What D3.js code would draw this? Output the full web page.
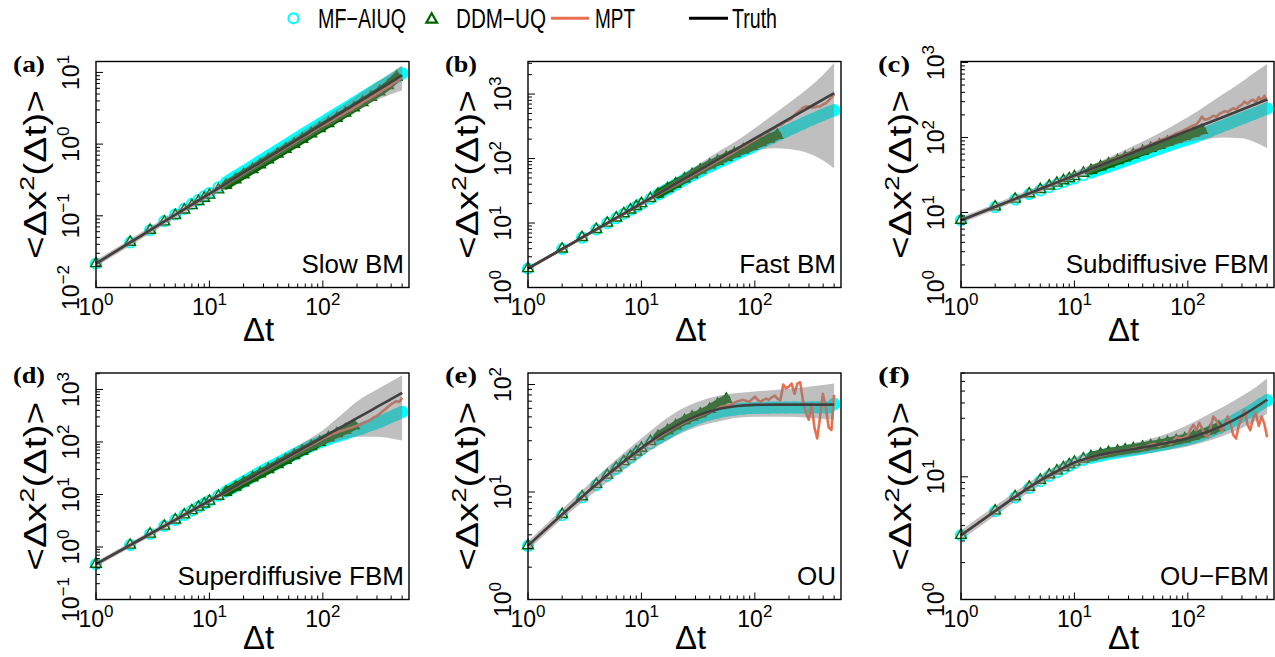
<!DOCTYPE html>
<html>
<head>
<meta charset="utf-8">
<script src="https://cdn.jsdelivr.net/npm/d3@7"></script>
<style>
  body { margin: 0; background: #ffffff; }
  svg { display: block; }
</style>
</head>
<body>
<svg id="chart" width="1275" height="657"></svg>
<script>
// ---------------------------------------------------------------------------
// Mean squared displacement <Δx²(Δt)> for six simulated processes,
// comparing MF-AIUQ, DDM-UQ and MPT estimates with the true MSD.
// ---------------------------------------------------------------------------

// Lag times at which each series is sampled
const truthDt  = [1, 2, 3, 5, 7, 10, 15, 20, 30, 50, 70, 100, 150, 200, 300, 500];
const markerDt = [1, 2, 3, 4, 5, 6, 7, 8, 9, 10, 12, 14, 17, 20, 24, 28, 33, 40, 47, 56, 66, 79, 94,
                  112, 133, 158, 188, 224, 266, 316, 376, 447, 500];
const mptDt    = [1, 2, 3, 4, 5, 7, 10, 14, 20, 28, 35, 40, 45, 50, 56, 63, 71, 79, 89, 100, 106, 112,
                  119, 126, 133, 141, 150, 158, 168, 178, 188, 200, 211, 224, 237, 251, 266, 282, 299,
                  316, 335, 355, 376, 398, 422, 447, 473, 500];
const bandDt   = [1, 2, 5, 10, 20, 30, 50, 70, 100, 150, 200, 300, 400, 500];

// (a) Slow BM
const truthA = [0.0216, 0.0425, 0.0630, 0.1035, 0.1435, 0.203, 0.301, 0.399, 0.592, 0.973, 1.35, 1.91, 2.83, 3.75, 5.56, 9.14];
const mfA = [0.0216, 0.0425, 0.063, 0.0842, 0.1045, 0.1248, 0.1464, 0.167, 0.1869, 0.2073, 0.25, 0.2903, 0.354,
             0.415, 0.4955, 0.5811, 0.6826, 0.8226, 0.962, 1.151, 1.353, 1.612, 1.907, 2.261, 2.674, 3.164,
             3.744, 4.439, 5.252, 6.213, 7.264, 8.594, 9.69];
const ddmA = [0.0216, 0.0429, 0.063, 0.0826, 0.1014, 0.1211, 0.1392, 0.1588, 0.1759, 0.1951, 0.2306, 0.2677,
              0.32, 0.3751, 0.4431, 0.5147, 0.6046, 0.7286, 0.8521, 0.9991, 1.174, 1.399, 1.655, 1.941, 2.296,
              2.716, 3.214, 3.811, 4.509, 5.392, 6.572, 8.594];
const mptA = [0.0216, 0.0423, 0.0628, 0.0830, 0.1030, 0.1420, 0.201, 0.278, 0.392, 0.542, 0.672, 0.762, 0.855,
              0.942, 1.05, 1.18, 1.31, 1.46, 1.64, 1.82, 1.90, 2.01, 2.12, 2.22, 2.36, 2.47, 2.60, 2.76, 2.90,
              3.02, 3.22, 3.40, 3.55, 3.82, 4.00, 4.18, 4.50, 4.70, 5.05, 5.25, 5.65, 5.90, 6.30, 6.60, 7.10,
              7.40, 8.00, 8.50];
const bandLoA = [0.0195, 0.0383, 0.0923, 0.179, 0.348, 0.509, 0.828, 1.135, 1.589, 2.301, 2.979, 4.121, 4.977, 5.636];
const bandHiA = [0.024, 0.0471, 0.1161, 0.2307, 0.4581, 0.6871, 1.143, 1.603, 2.296, 3.483, 4.721, 7.328, 9.931, 12.62];

// (b) Fast BM
const truthB = [1.97, 3.96, 5.97, 10.0, 14.0, 20.1, 30.2, 40.4, 60.8, 102, 143, 205, 308, 411, 619, 1038];
const mfB = [1.97, 3.96, 5.95, 7.95, 9.95, 11.9, 13.9, 15.9, 17.9, 19.9, 23.8, 27.8, 33.7, 39.5, 47.4, 54.8, 63.9,
             75.9, 86.1, 99.2, 114, 131, 150, 174, 200, 230, 264, 304, 350, 402, 458, 519, 560];
const ddmB = [1.97, 3.96, 5.97, 7.98, 10.0, 12.0, 14.0, 16.0, 18.1, 20.1, 24.1, 28.2, 34.3, 40.4, 48.5, 56.7, 67.0,
              80.0, 91.2, 105, 120, 137, 155, 178, 202, 230];
const mptB = [1.97, 3.9, 5.9, 7.9, 9.9, 13.8, 19.6, 27.5, 39.2, 55, 68, 78, 88, 97, 108, 121, 139, 152, 174, 193,
              206, 222, 232, 250, 258, 280, 296, 322, 330, 352, 380, 392, 420, 470, 520, 560, 620, 640, 640, 620,
              620, 640, 640, 690, 720, 790, 880, 1000];
const bandLoB = [1.86, 3.76, 9.33, 18.6, 35.5, 50.1, 79.4, 105, 132, 145, 141, 120, 93.3, 70.8];
const bandHiB = [2.09, 4.17, 10.7, 21.9, 46.8, 75.9, 135, 191, 295, 501, 724, 1259, 1995, 3020];

// (c) Subdiffusive FBM
const truthC = [7.89, 11.9, 15.2, 20.6, 25.2, 31.1, 39.6, 47.0, 59.8, 81.2, 99.4, 123, 156, 185, 236, 321];
const mfC = [7.89, 11.8, 14.9, 17.6, 19.7, 21.8, 23.8, 25.6, 27.3, 28.4, 31.4, 34.1, 37.8, 41.0, 45.2, 49.1, 53.5,
             59.3, 64.7, 71.1, 77.6, 85.1, 92.3, 100, 110, 122, 136, 151, 167, 185, 205, 227, 243];
const ddmC = [7.89, 11.9, 15.1, 17.8, 20.3, 22.6, 24.7, 26.6, 28.4, 30.2, 33.5, 36.5, 40.8, 44.6, 49.4, 53.8, 59.0,
              65.6, 71.8, 79.0, 86.5, 95.0, 104, 114, 125];
const mptC = [7.89, 11.8, 15.0, 17.9, 20.4, 25.0, 30.8, 37.8, 47.5, 58.5, 67.0, 72.5, 78.0, 84.0, 91.0, 97.0, 104,
              113, 121, 133, 140, 144, 150, 165, 190, 172, 176, 182, 195, 188, 205, 215, 224, 218, 232, 245, 238,
              260, 272, 300, 282, 305, 320, 295, 345, 310, 360, 300];
const bandLoC = [7.19, 10.9, 18.6, 27.7, 40.9, 50.9, 64.6, 75.9, 87.1, 95.5, 100, 97.7, 85.1, 72.4];
const bandHiC = [8.65, 13.1, 22.9, 34.9, 54.0, 71.9, 105, 137, 186, 278, 370, 553, 755, 955];

// (d) Superdiffusive FBM
const truthD = [0.470, 1.09, 1.77, 3.29, 4.94, 7.60, 12.4, 17.6, 28.7, 53.2, 80.0, 123, 201, 284, 464, 861];
const mfD = [0.47, 1.09, 1.77, 2.51, 3.29, 4.10, 4.94, 5.81, 6.69, 7.60, 9.48, 11.4, 14.4, 17.6, 21.9, 26.4, 32.2,
             39.7, 47.6, 58.2, 69.7, 84.5, 99.3, 114, 129, 144, 163, 183, 211, 242, 285, 335, 374];
const ddmD = [0.47, 1.09, 1.77, 2.51, 3.29, 4.10, 4.94, 5.78, 6.63, 7.50, 9.31, 11.1, 13.9, 16.8, 20.8, 24.9, 30.0,
              37.5, 45.2, 55.6, 67.0, 82.4, 99.6, 121, 145, 170, 205];
const mptD = [0.47, 1.08, 1.75, 2.48, 3.25, 4.88, 7.45, 11.2, 17.2, 25.8, 33.5, 39.5, 45.0, 51.5, 58.5, 67.5, 77.0,
              88.0, 101, 116, 123, 130, 138, 146, 152, 160, 166, 172, 180, 186, 195, 205, 212, 225, 240, 248, 270,
              295, 310, 340, 380, 420, 470, 520, 560, 600, 580, 700];
const bandLoD = [0.419, 0.968, 2.93, 6.78, 15.3, 24.4, 43.3, 61.7, 87.1, 112, 126, 126, 117, 107];
const bandHiD = [0.527, 1.22, 3.69, 8.53, 20.2, 33.7, 65.5, 103, 168, 347, 589, 1000, 1413, 1862];

// (e) OU
const truthE = [3.17, 6.19, 9.05, 14.4, 19.2, 25.6, 34.5, 41.1, 50.5, 59.7, 63.1, 64.6, 65.0, 65.0, 65.0, 65.0];
const mfE = [3.15, 6.1, 8.9, 11.6, 14.1, 16.4, 18.7, 20.8, 22.9, 24.8, 28.3, 31.5, 35.5, 39.3, 43.2, 46.4, 49.5,
             52.8, 55.1, 57.1, 58.6, 59.7, 60.4, 60.8, 61.0, 61.1, 61.2, 61.2, 61.2, 61.3, 61.3, 61.3, 66];
const ddmE = [3.17, 6.19, 9.05, 11.8, 14.4, 16.8, 19.2, 21.4, 23.6, 25.6, 29.6, 33.0, 37.4, 41.5, 46.3, 50.0, 53.4,
              59.0, 65.9, 73.2];
const mptE = [3.17, 6.15, 9.0, 11.7, 14.3, 19.0, 25.2, 32.3, 40.5, 48.5, 53, 56, 58, 62, 63, 66, 70, 72, 69, 77,
              72, 69, 72, 74, 72, 76, 79, 74, 71, 100, 92, 96, 102, 82, 102, 105, 70, 55, 47, 66, 40, 31.5, 50,
              82, 62, 40, 37.6, 80];
const bandLoE = [2.88, 5.62, 12.3, 21.4, 33.1, 39.8, 45.7, 49.0, 50.1, 50.1, 50.1, 49.0, 47.9, 47.3];
const bandHiE = [3.47, 6.92, 17.0, 31.6, 55.0, 67.6, 79.4, 83.2, 86.1, 89.1, 91.2, 95.5, 98.9, 102.3];

// (f) OU-FBM
const truthF = [3.34, 5.27, 6.86, 9.35, 11.1, 13.1, 14.7, 15.6, 16.6, 18.0, 19.1, 20.6, 23.3, 26.0, 31.5, 42.5];
const mfF = [3.34, 5.24, 6.8, 8.1, 9.22, 10.15, 10.9, 11.6, 12.3, 12.9, 13.7, 14.3, 14.9, 15.4, 15.8, 16.2, 16.55,
             17.05, 17.55, 18.05, 18.6, 19.3, 20.0, 20.9, 22.0, 23.4, 25.0, 27.0, 29.4, 32.2, 35.5, 39.5, 42.0];
const ddmF = [3.34, 5.29, 6.9, 8.25, 9.4, 10.4, 11.2, 11.9, 12.6, 13.2, 14.0, 14.6, 15.3, 15.8, 16.2, 16.6, 17.0,
              17.5, 18.0, 18.5, 19.1, 19.8, 20.5, 21.4, 22.5, 23.9, 25.5];
const mptF = [3.34, 5.25, 6.85, 8.2, 9.3, 11.0, 13.0, 14.4, 15.4, 16.5, 17.2, 17.0, 18.0, 18.6, 17.8, 19.2, 18.5,
              21.0, 20.5, 21.8, 24.5, 26.5, 24.0, 27.5, 25.0, 22.0, 21.0, 25.0, 31.0, 29.0, 26.0, 23.5, 27.0,
              31.0, 27.5, 22.0, 20.5, 26.5, 30.0, 35.0, 27.0, 24.0, 30.0, 33.0, 26.0, 31.0, 27.0, 21.0];
const bandLoF = [3.05, 4.81, 8.53, 11.9, 14.1, 14.8, 15.8, 16.6, 17.7, 19.6, 21.4, 25.0, 28.6, 32.8];
const bandHiF = [3.66, 5.78, 10.3, 14.4, 17.1, 18.4, 20.7, 23.0, 26.5, 32.1, 36.7, 45.5, 54.0, 63.5];

// Labels
const panelTags  = ["(a)", "(b)", "(c)", "(d)", "(e)", "(f)"];
const panelNames = ["Slow BM", "Fast BM", "Subdiffusive FBM", "Superdiffusive FBM", "OU", "OU\u2212FBM"];
const legendLabels = ["MF\u2212AIUQ", "DDM\u2212UQ", "MPT", "Truth"];
const xTickExponents = [0, 1, 2];
const yTickExponents = [[-2, -1, 0, 1], [0, 1, 2, 3], [0, 1, 2, 3], [-1, 0, 1, 2, 3], [0, 1, 2], [0, 1]];
const yLimits = [[0.01, 14.2], [1, 3200], [1, 1030], [0.1, 2060], [1, 128], [1, 70.2]];
const xLimits = [1, 575];

// ---------------------------------------------------------------------------
const colours = { mf: "#00ffff", ddm: "#006400", mpt: "#ea6f50", truth: "#000000",
                  band: "rgba(128,128,128,0.5)" };
const SANS = "'Liberation Sans', Arial, Helvetica, sans-serif";
const SERIF = "'Liberation Serif', 'Times New Roman', serif";

const panels = [
  { truth: truthA, mf: mfA, ddm: ddmA, mpt: mptA, lo: bandLoA, hi: bandHiA },
  { truth: truthB, mf: mfB, ddm: ddmB, mpt: mptB, lo: bandLoB, hi: bandHiB },
  { truth: truthC, mf: mfC, ddm: ddmC, mpt: mptC, lo: bandLoC, hi: bandHiC },
  { truth: truthD, mf: mfD, ddm: ddmD, mpt: mptD, lo: bandLoD, hi: bandHiD },
  { truth: truthE, mf: mfE, ddm: ddmE, mpt: mptE, lo: bandLoE, hi: bandHiE },
  { truth: truthF, mf: mfF, ddm: ddmF, mpt: mptF, lo: bandLoF, hi: bandHiF }
].map((p, i) => Object.assign(p, {
  tag: panelTags[i], name: panelNames[i], yExp: yTickExponents[i], yLim: yLimits[i]
}));

const svg = d3.select("#chart");

// panel geometry
const colLeft = [96, 528, 961];
const plotW = 313;
const rowBox = [{ top: 61.5, bottom: 287.5, xTitle: 341 }, { top: 373, bottom: 599.5, xTitle: 649 }];

const expText = e => (e < 0 ? "\u2212" + Math.abs(e) : String(e));

function logTicks(lo, hi) {
  const out = [];
  for (let e = Math.floor(Math.log10(lo)); e <= Math.ceil(Math.log10(hi)); e++) {
    for (let k = 1; k <= 9; k++) {
      const v = k * Math.pow(10, e);
      if (v >= lo * 0.999 && v <= hi * 1.001) out.push({ v, major: k === 1 });
    }
  }
  return out;
}

const triangle = d3.symbol().type(d3.symbolTriangle).size(50);

panels.forEach((p, i) => {
  const left = colLeft[i % 3], right = left + plotW;
  const { top, bottom, xTitle } = rowBox[Math.floor(i / 3)];

  const x = d3.scaleLog().domain(xLimits).range([left, right]);
  const y = d3.scaleLog().domain(p.yLim).range([bottom, top]);
  const g = svg.append("g");

  const mfPts = markerDt.map((t, j) => [t, p.mf[j]]);
  const ddmPts = p.ddm.map((v, j) => [markerDt[j], v]);
  const mptPts = mptDt.map((t, j) => [t, p.mpt[j]]);
  const truthPts = truthDt.map((t, j) => [t, p.truth[j]]);
  const bandPts = bandDt.map((t, j) => [t, p.lo[j], p.hi[j]]);

  const smooth = d3.line().x(d => x(d[0])).y(d => y(d[1])).curve(d3.curveMonotoneX);
  const straight = d3.line().x(d => x(d[0])).y(d => y(d[1]));

  // MF-AIUQ: dense open circles merge into a solid ribbon at long lags
  g.append("path").datum(mfPts.filter(d => d[0] >= 14))
    .attr("d", smooth).attr("fill", "none").attr("stroke", colours.mf)
    .attr("stroke-width", 12).attr("stroke-linecap", "round").attr("stroke-linejoin", "round");
  g.append("g").selectAll("circle").data(mfPts).join("circle")
    .attr("cx", d => x(d[0])).attr("cy", d => y(d[1])).attr("r", 5.2)
    .attr("fill", "none").attr("stroke", colours.mf).attr("stroke-width", 1.8);

  // DDM-UQ: open triangles
  g.append("path").datum(ddmPts.filter(d => d[0] >= 14))
    .attr("d", smooth).attr("fill", "none").attr("stroke", colours.ddm)
    .attr("stroke-width", 9).attr("stroke-linecap", "round").attr("stroke-linejoin", "round");
  g.append("g").selectAll("path").data(ddmPts).join("path")
    .attr("d", triangle)
    .attr("transform", d => `translate(${x(d[0])},${y(d[1])})`)
    .attr("fill", "none").attr("stroke", colours.ddm).attr("stroke-width", 1.4);

  // MPT
  g.append("path").datum(mptPts).attr("d", straight)
    .attr("fill", "none").attr("stroke", colours.mpt).attr("stroke-width", 2.6)
    .attr("stroke-linejoin", "round");

  // Truth
  g.append("path").datum(truthPts).attr("d", smooth)
    .attr("fill", "none").attr("stroke", colours.truth).attr("stroke-width", 2.6);

  // 95% band drawn as a translucent grey veil over the estimates
  const area = d3.area().x(d => x(d[0])).y0(d => y(d[1])).y1(d => y(d[2])).curve(d3.curveMonotoneX);
  g.append("path").datum(bandPts).attr("d", area).attr("fill", colours.band);

  // frame
  g.append("rect").attr("x", left).attr("y", top).attr("width", plotW).attr("height", bottom - top)
    .attr("fill", "none").attr("stroke", "#000").attr("stroke-width", 1.4);

  // inward ticks
  const tg = g.append("g").attr("stroke", "#000").attr("stroke-width", 1);
  logTicks(xLimits[0], xLimits[1]).forEach(t => {
    const len = t.major ? 7 : 4;
    tg.append("line").attr("x1", x(t.v)).attr("x2", x(t.v)).attr("y1", bottom).attr("y2", bottom - len);
  });
  logTicks(p.yLim[0], p.yLim[1]).forEach(t => {
    const len = t.major ? 7 : 4;
    tg.append("line").attr("x1", left).attr("x2", left + len).attr("y1", y(t.v)).attr("y2", y(t.v));
  });

  // x tick labels
  xTickExponents.forEach(e => {
    const t = g.append("text").attr("x", x(Math.pow(10, e))).attr("y", bottom + 27)
      .attr("text-anchor", "middle").attr("font-family", SANS).attr("font-size", 23);
    t.append("tspan").text("10");
    t.append("tspan").text(expText(e)).attr("font-size", 17).attr("dy", -10);
  });

  // y tick labels (rotated)
  p.yExp.forEach(e => {
    const t = g.append("text")
      .attr("transform", `translate(${left - 17},${y(Math.pow(10, e))}) rotate(-90)`)
      .attr("text-anchor", "middle").attr("font-family", SANS).attr("font-size", 23);
    t.append("tspan").text("10");
    t.append("tspan").text(expText(e)).attr("font-size", 17).attr("dy", -10);
  });

  // axis titles
  const yt = g.append("text")
    .attr("transform", `translate(${left - 50},${(top + bottom) / 2}) scale(0.78,1) rotate(-90)`)
    .attr("text-anchor", "middle").attr("font-family", SANS).attr("font-size", 39);
  yt.append("tspan").text("<\u0394x");
  yt.append("tspan").text("2").attr("font-size", 27).attr("dy", -15);
  yt.append("tspan").text("(\u0394t)>").attr("dy", 15);

  g.append("text").attr("x", (left + right) / 2 + 6).attr("y", xTitle)
    .attr("text-anchor", "middle").attr("font-family", SANS).attr("font-size", 33).text("\u0394t");

  // panel tag and process name
  g.append("text").attr("x", left - 83).attr("y", top + 10)
    .attr("font-family", SERIF).attr("font-weight", "bold").attr("font-size", 24)
    .attr("textLength", 32).attr("lengthAdjust", "spacingAndGlyphs").text(p.tag);
  g.append("text").attr("x", right - 5).attr("y", bottom - 15)
    .attr("text-anchor", "end").attr("font-family", SANS).attr("font-size", 26).text(p.name);
});

// legend
const lg = svg.append("g").attr("font-family", SANS).attr("font-size", 27);
lg.append("circle").attr("cx", 293.5).attr("cy", 18.3).attr("r", 5)
  .attr("fill", "none").attr("stroke", colours.mf).attr("stroke-width", 2.2);
lg.append("path").attr("d", triangle).attr("transform", "translate(431.7,19.5)")
  .attr("fill", "none").attr("stroke", colours.ddm).attr("stroke-width", 2.2);
lg.append("line").attr("x1", 551).attr("x2", 589).attr("y1", 18.3).attr("y2", 18.3)
  .attr("stroke", colours.mpt).attr("stroke-width", 3);
lg.append("line").attr("x1", 689).attr("x2", 728).attr("y1", 18.3).attr("y2", 18.3)
  .attr("stroke", colours.truth).attr("stroke-width", 3);
const legendText = [[318, 88], [456, 90], [595, 40], [732, 45]];
legendLabels.forEach((s, k) => {
  lg.append("text").attr("x", legendText[k][0]).attr("y", 27.5)
    .attr("textLength", legendText[k][1]).attr("lengthAdjust", "spacingAndGlyphs").text(s);
});
</script>
</body>
</html>
